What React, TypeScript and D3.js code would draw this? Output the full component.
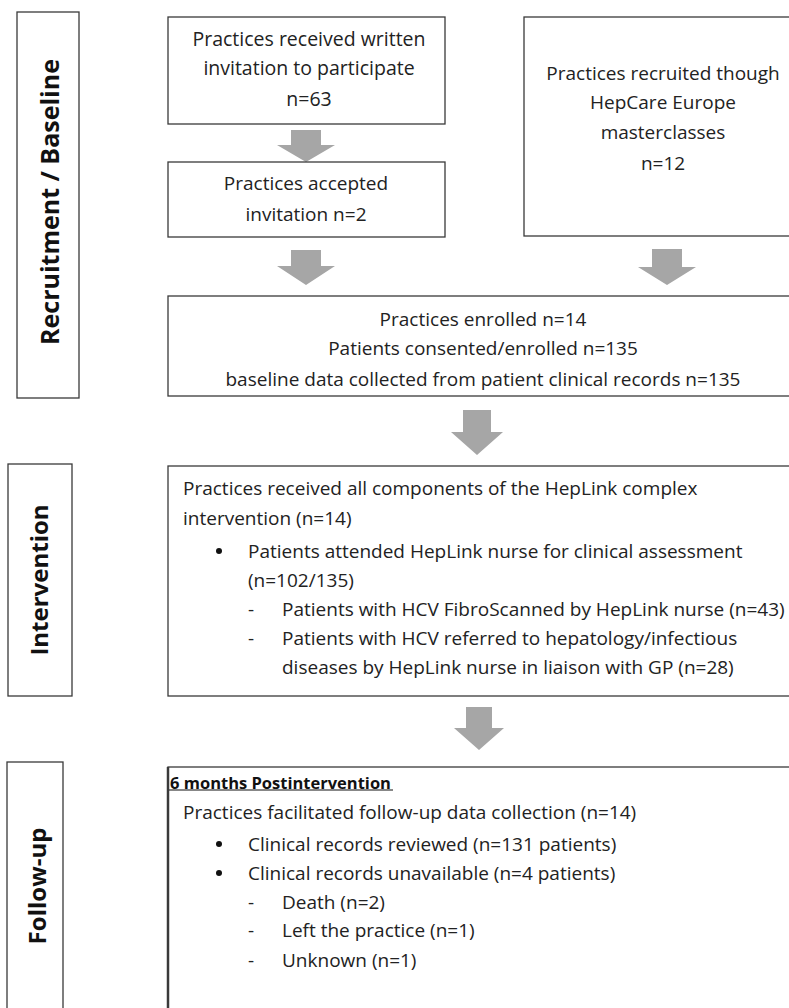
import React from "react";
import * as d3 from "d3";

const W = 789;
const H = 1008;
const FONT = "'Open Sans', 'Noto Sans', sans-serif";
const FS = 19;

const stageLabels = ["Recruitment / Baseline", "Intervention", "Follow-up"];
const box1Lines = ["Practices received written", "invitation to participate", "n=63"];
const box2Lines = ["Practices accepted", "invitation n=2"];
const box3Lines = ["Practices recruited though", "HepCare Europe", "masterclasses", "n=12"];
const box4Lines = [
  "Practices enrolled n=14",
  "Patients consented/enrolled n=135",
  "baseline data collected from patient clinical records n=135",
];
// level: 0 plain, 1 bullet, 2 dash, 3 continuation of bullet, 4 continuation of dash
const interventionLines: [number, string][] = [
  [0, "Practices received all components of the HepLink complex"],
  [0, "intervention (n=14)"],
  [1, "Patients attended HepLink nurse for clinical assessment"],
  [3, "(n=102/135)"],
  [2, "Patients with HCV FibroScanned by HepLink nurse (n=43)"],
  [2, "Patients with HCV referred to hepatology/infectious"],
  [4, "diseases by HepLink nurse in liaison with GP (n=28)"],
];
const followHeader = "6 months Postintervention";
const followLines: [number, string][] = [
  [0, "Practices facilitated follow-up data collection (n=14)"],
  [1, "Clinical records reviewed (n=131 patients)"],
  [1, "Clinical records unavailable (n=4 patients)"],
  [2, "Death (n=2)"],
  [2, "Left the practice (n=1)"],
  [2, "Unknown (n=1)"],
];

const stroke = "#3a3a3a";
const arrowFill = "#a6a6a6";

function Arrow({ cx, y0, y1, yh, sw, hw }: { cx: number; y0: number; y1: number; yh: number; sw: number; hw: number }) {
  const pts: [number, number][] = [
    [cx - sw, y0],
    [cx + sw, y0],
    [cx + sw, yh],
    [cx + hw, yh],
    [cx, y1],
    [cx - hw, yh],
    [cx - sw, yh],
  ];
  const path = d3.line()(pts) + "Z";
  return <path d={path} fill={arrowFill} stroke="none" />;
}

function Rect({ x, y, w, h, sw = 1.3 }: { x: number; y: number; w: number; h: number; sw?: number }) {
  return <rect x={x} y={y} width={w} height={h} fill="white" stroke={stroke} strokeWidth={sw} />;
}

function CenterLines({ lines, cx, ys, fs = FS }: { lines: string[]; cx: number; ys: number[]; fs?: number }) {
  return (
    <g>
      {lines.map((t, i) => (
        <text key={i} x={cx} y={ys[i]} textAnchor="middle" dominantBaseline="central" fontFamily={FONT} fontSize={fs} fill="#222">
          {t}
        </text>
      ))}
    </g>
  );
}

function ListLines({ lines, ys }: { lines: [number, string][]; ys: number[] }) {
  const xPlain = 183;
  const xBulletText = 248;
  const xBullet = 219;
  const xDash = 251;
  const xDashText = 282;
  return (
    <g fontFamily={FONT} fontSize={FS} fill="#222">
      {lines.map(([lvl, t], i) => {
        const y = ys[i];
        const x = lvl === 0 ? xPlain : lvl === 1 || lvl === 3 ? xBulletText : xDashText;
        return (
          <g key={i}>
            {lvl === 1 && <circle cx={xBullet} cy={y} r={3} fill="#111" />}
            {lvl === 2 && (
              <text x={xDash} y={y} dominantBaseline="central" textAnchor="middle">
                -
              </text>
            )}
            <text x={x} y={y} dominantBaseline="central">
              {t}
            </text>
          </g>
        );
      })}
    </g>
  );
}

export default function App() {
  return (
    <svg width={W} height={H} style={{ position: "absolute", left: 0, top: 0, background: "white" }}>
      <rect x={0} y={0} width={W} height={H} fill="white" />

      {/* stage labels */}
      <Rect x={17} y={12} w={62} h={386} />
      <text transform={`translate(49,202) rotate(-90)`} textAnchor="middle" dominantBaseline="central" fontFamily={FONT} fontWeight="bold" fontSize={25} fill="#111">
        {stageLabels[0]}
      </text>
      <Rect x={8} y={464} w={64} h={232} />
      <text transform={`translate(38,580) rotate(-90)`} textAnchor="middle" dominantBaseline="central" fontFamily={FONT} fontWeight="bold" fontSize={24} fill="#111">
        {stageLabels[1]}
      </text>
      <Rect x={7} y={762} w={56} h={260} />
      <text transform={`translate(36,886) rotate(-90)`} textAnchor="middle" dominantBaseline="central" fontFamily={FONT} fontWeight="bold" fontSize={24} fill="#111">
        {stageLabels[2]}
      </text>

      {/* recruitment boxes */}
      <Rect x={168} y={17} w={277} h={107} />
      <CenterLines lines={box1Lines} cx={309} ys={[38, 67, 98]} fs={19.5} />
      <Arrow cx={306} y0={130} yh={145} y1={162} sw={15} hw={29} />
      <Rect x={168} y={162} w={277} h={75} />
      <CenterLines lines={box2Lines} cx={306} ys={[183, 214]} />
      <Arrow cx={306} y0={250} yh={266} y1={285} sw={15} hw={29} />

      <Rect x={524} y={17} w={278} h={219} />
      <CenterLines lines={box3Lines} cx={663} ys={[73, 102, 132, 163]} />
      <Arrow cx={667} y0={249} yh={267} y1={285} sw={15} hw={29} />

      <Rect x={168} y={296} w={630} h={100} />
      <CenterLines lines={box4Lines} cx={483} ys={[319, 348, 379]} />

      <Arrow cx={477} y0={410} yh={432} y1={455} sw={14} hw={26} />

      {/* intervention */}
      <Rect x={168} y={466} w={630} h={230} />
      <ListLines lines={interventionLines} ys={[488, 518, 551, 580, 609, 638, 667]} />

      <Arrow cx={479} y0={707} yh={728} y1={750} sw={13} hw={25} />

      {/* follow-up */}
      <Rect x={168} y={767} w={630} h={260} />
      <line x1={168} y1={767} x2={168} y2={1008} stroke={stroke} strokeWidth={2.5} />
      <text x={170} y={782} dominantBaseline="central" fontFamily={FONT} fontWeight="bold" fontSize={16.5} fill="#111">
        {followHeader}
      </text>
      <line x1={169} y1={790} x2={393} y2={790} stroke="#111" strokeWidth={1.2} />
      <ListLines lines={followLines} ys={[812, 844, 873, 902, 930, 960]} />
    </svg>
  );
}
